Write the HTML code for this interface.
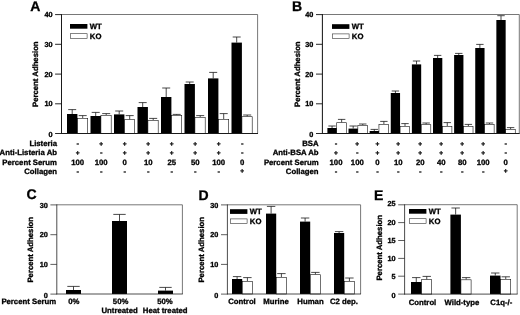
<!DOCTYPE html>
<html><head><meta charset="utf-8"><title>Figure</title>
<style>
html,body{margin:0;padding:0;background:#fff;}
body{width:520px;height:315px;overflow:hidden;}
svg{display:block;}
svg text{font-family:"Liberation Sans", Arial, Helvetica, sans-serif;font-weight:bold;fill:#000;text-rendering:geometricPrecision;stroke:#000;stroke-width:0.3px;}
svg{filter:blur(0.38px);}
</style></head><body>
<svg width="520" height="315" viewBox="0 0 520 315">
<rect x="0" y="0" width="520" height="315" fill="#fff"/>
<text x="30.30" y="11.20" text-anchor="start" font-size="14">A</text>
<line x1="61.50" y1="14.50" x2="257.60" y2="14.50" stroke="#555" stroke-width="0.8"/>
<line x1="257.60" y1="14.50" x2="257.60" y2="133.40" stroke="#555" stroke-width="0.8"/>
<line x1="82.70" y1="118.00" x2="82.70" y2="115.60" stroke="#1a1a1a" stroke-width="0.8"/>
<line x1="78.70" y1="115.60" x2="86.70" y2="115.60" stroke="#1a1a1a" stroke-width="0.8"/>
<rect x="77.40" y="118.30" width="10.30" height="15.10" fill="#fff" stroke="#111" stroke-width="0.6"/>
<line x1="72.20" y1="114.00" x2="72.20" y2="109.60" stroke="#1a1a1a" stroke-width="0.8"/>
<line x1="68.20" y1="109.60" x2="76.20" y2="109.60" stroke="#1a1a1a" stroke-width="0.8"/>
<rect x="67.00" y="114.00" width="10.40" height="19.40" fill="#000"/>
<line x1="106.20" y1="115.00" x2="106.20" y2="113.60" stroke="#1a1a1a" stroke-width="0.8"/>
<line x1="102.20" y1="113.60" x2="110.20" y2="113.60" stroke="#1a1a1a" stroke-width="0.8"/>
<rect x="100.90" y="115.30" width="10.30" height="18.10" fill="#fff" stroke="#111" stroke-width="0.6"/>
<line x1="95.70" y1="116.00" x2="95.70" y2="112.40" stroke="#1a1a1a" stroke-width="0.8"/>
<line x1="91.70" y1="112.40" x2="99.70" y2="112.40" stroke="#1a1a1a" stroke-width="0.8"/>
<rect x="90.50" y="116.00" width="10.40" height="17.40" fill="#000"/>
<line x1="129.70" y1="119.40" x2="129.70" y2="115.60" stroke="#1a1a1a" stroke-width="0.8"/>
<line x1="125.70" y1="115.60" x2="133.70" y2="115.60" stroke="#1a1a1a" stroke-width="0.8"/>
<rect x="124.40" y="119.70" width="10.30" height="13.70" fill="#fff" stroke="#111" stroke-width="0.6"/>
<line x1="119.20" y1="114.40" x2="119.20" y2="111.00" stroke="#1a1a1a" stroke-width="0.8"/>
<line x1="115.20" y1="111.00" x2="123.20" y2="111.00" stroke="#1a1a1a" stroke-width="0.8"/>
<rect x="114.00" y="114.40" width="10.40" height="19.00" fill="#000"/>
<line x1="153.20" y1="120.00" x2="153.20" y2="118.40" stroke="#1a1a1a" stroke-width="0.8"/>
<line x1="149.20" y1="118.40" x2="157.20" y2="118.40" stroke="#1a1a1a" stroke-width="0.8"/>
<rect x="147.90" y="120.30" width="10.30" height="13.10" fill="#fff" stroke="#111" stroke-width="0.6"/>
<line x1="142.70" y1="107.00" x2="142.70" y2="102.60" stroke="#1a1a1a" stroke-width="0.8"/>
<line x1="138.70" y1="102.60" x2="146.70" y2="102.60" stroke="#1a1a1a" stroke-width="0.8"/>
<rect x="137.50" y="107.00" width="10.40" height="26.40" fill="#000"/>
<line x1="176.70" y1="115.00" x2="176.70" y2="114.40" stroke="#1a1a1a" stroke-width="0.8"/>
<line x1="172.70" y1="114.40" x2="180.70" y2="114.40" stroke="#1a1a1a" stroke-width="0.8"/>
<rect x="171.40" y="115.30" width="10.30" height="18.10" fill="#fff" stroke="#111" stroke-width="0.6"/>
<line x1="166.20" y1="97.00" x2="166.20" y2="88.00" stroke="#1a1a1a" stroke-width="0.8"/>
<line x1="162.20" y1="88.00" x2="170.20" y2="88.00" stroke="#1a1a1a" stroke-width="0.8"/>
<rect x="161.00" y="97.00" width="10.40" height="36.40" fill="#000"/>
<line x1="200.20" y1="117.00" x2="200.20" y2="115.60" stroke="#1a1a1a" stroke-width="0.8"/>
<line x1="196.20" y1="115.60" x2="204.20" y2="115.60" stroke="#1a1a1a" stroke-width="0.8"/>
<rect x="194.90" y="117.30" width="10.30" height="16.10" fill="#fff" stroke="#111" stroke-width="0.6"/>
<line x1="189.70" y1="84.00" x2="189.70" y2="82.00" stroke="#1a1a1a" stroke-width="0.8"/>
<line x1="185.70" y1="82.00" x2="193.70" y2="82.00" stroke="#1a1a1a" stroke-width="0.8"/>
<rect x="184.50" y="84.00" width="10.40" height="49.40" fill="#000"/>
<line x1="223.70" y1="119.00" x2="223.70" y2="113.60" stroke="#1a1a1a" stroke-width="0.8"/>
<line x1="219.70" y1="113.60" x2="227.70" y2="113.60" stroke="#1a1a1a" stroke-width="0.8"/>
<rect x="218.40" y="119.30" width="10.30" height="14.10" fill="#fff" stroke="#111" stroke-width="0.6"/>
<line x1="213.20" y1="78.40" x2="213.20" y2="72.40" stroke="#1a1a1a" stroke-width="0.8"/>
<line x1="209.20" y1="72.40" x2="217.20" y2="72.40" stroke="#1a1a1a" stroke-width="0.8"/>
<rect x="208.00" y="78.40" width="10.40" height="55.00" fill="#000"/>
<line x1="247.20" y1="116.40" x2="247.20" y2="115.00" stroke="#1a1a1a" stroke-width="0.8"/>
<line x1="243.20" y1="115.00" x2="251.20" y2="115.00" stroke="#1a1a1a" stroke-width="0.8"/>
<rect x="241.90" y="116.70" width="10.30" height="16.70" fill="#fff" stroke="#111" stroke-width="0.6"/>
<line x1="236.70" y1="42.60" x2="236.70" y2="37.00" stroke="#1a1a1a" stroke-width="0.8"/>
<line x1="232.70" y1="37.00" x2="240.70" y2="37.00" stroke="#1a1a1a" stroke-width="0.8"/>
<rect x="231.50" y="42.60" width="10.40" height="90.80" fill="#000"/>
<line x1="61.50" y1="14.10" x2="61.50" y2="133.93" stroke="#1a1a1a" stroke-width="1.05"/>
<line x1="60.98" y1="133.40" x2="258.00" y2="133.40" stroke="#1a1a1a" stroke-width="1.05"/>
<line x1="55.10" y1="133.50" x2="61.50" y2="133.50" stroke="#1a1a1a" stroke-width="0.9450000000000001"/>
<text x="52.50" y="137.15" text-anchor="end" font-size="7.3">0</text>
<line x1="55.10" y1="103.80" x2="61.50" y2="103.80" stroke="#1a1a1a" stroke-width="0.9450000000000001"/>
<text x="52.50" y="106.45" text-anchor="end" font-size="7.3">10</text>
<line x1="55.10" y1="74.10" x2="61.50" y2="74.10" stroke="#1a1a1a" stroke-width="0.9450000000000001"/>
<text x="52.50" y="76.75" text-anchor="end" font-size="7.3">20</text>
<line x1="55.10" y1="44.30" x2="61.50" y2="44.30" stroke="#1a1a1a" stroke-width="0.9450000000000001"/>
<text x="52.50" y="46.95" text-anchor="end" font-size="7.3">30</text>
<line x1="55.10" y1="14.60" x2="61.50" y2="14.60" stroke="#1a1a1a" stroke-width="0.9450000000000001"/>
<text x="52.50" y="17.25" text-anchor="end" font-size="7.3">40</text>
<rect x="70.00" y="24.00" width="17.40" height="4.70" fill="#000"/>
<rect x="70.30" y="33.70" width="16.80" height="4.60" fill="#fff" stroke="#333" stroke-width="0.6"/>
<text x="89.80" y="29.20" text-anchor="start" font-size="7.75">WT</text>
<text x="89.80" y="39.20" text-anchor="start" font-size="7.75">KO</text>
<text transform="translate(38.00,74.20) rotate(-90)" text-anchor="middle" font-size="7.75">Percent Adhesion</text>
<text x="57.00" y="146.00" text-anchor="end" font-size="7.75">Listeria</text>
<text x="77.70" y="146.00" text-anchor="middle" font-size="7.75">-</text>
<text x="101.20" y="145.55" text-anchor="middle" font-size="6.6">+</text>
<text x="124.70" y="145.55" text-anchor="middle" font-size="6.6">+</text>
<text x="148.20" y="145.55" text-anchor="middle" font-size="6.6">+</text>
<text x="171.70" y="145.55" text-anchor="middle" font-size="6.6">+</text>
<text x="195.20" y="145.55" text-anchor="middle" font-size="6.6">+</text>
<text x="218.70" y="145.55" text-anchor="middle" font-size="6.6">+</text>
<text x="242.20" y="146.00" text-anchor="middle" font-size="7.75">-</text>
<text x="57.00" y="155.40" text-anchor="end" font-size="7.75">Anti-Listeria Ab</text>
<text x="77.70" y="154.95" text-anchor="middle" font-size="6.6">+</text>
<text x="101.20" y="155.40" text-anchor="middle" font-size="7.75">-</text>
<text x="124.70" y="154.95" text-anchor="middle" font-size="6.6">+</text>
<text x="148.20" y="154.95" text-anchor="middle" font-size="6.6">+</text>
<text x="171.70" y="154.95" text-anchor="middle" font-size="6.6">+</text>
<text x="195.20" y="154.95" text-anchor="middle" font-size="6.6">+</text>
<text x="218.70" y="154.95" text-anchor="middle" font-size="6.6">+</text>
<text x="242.20" y="155.40" text-anchor="middle" font-size="7.75">-</text>
<text x="57.00" y="164.60" text-anchor="end" font-size="7.75">Percent Serum</text>
<text x="77.70" y="164.60" text-anchor="middle" font-size="7.75">100</text>
<text x="101.20" y="164.60" text-anchor="middle" font-size="7.75">100</text>
<text x="124.70" y="164.60" text-anchor="middle" font-size="7.75">0</text>
<text x="148.20" y="164.60" text-anchor="middle" font-size="7.75">10</text>
<text x="171.70" y="164.60" text-anchor="middle" font-size="7.75">25</text>
<text x="195.20" y="164.60" text-anchor="middle" font-size="7.75">50</text>
<text x="218.70" y="164.60" text-anchor="middle" font-size="7.75">100</text>
<text x="242.20" y="164.60" text-anchor="middle" font-size="7.75">0</text>
<text x="57.00" y="173.80" text-anchor="end" font-size="7.75">Collagen</text>
<text x="77.70" y="173.80" text-anchor="middle" font-size="7.75">-</text>
<text x="101.20" y="173.80" text-anchor="middle" font-size="7.75">-</text>
<text x="124.70" y="173.80" text-anchor="middle" font-size="7.75">-</text>
<text x="148.20" y="173.80" text-anchor="middle" font-size="7.75">-</text>
<text x="171.70" y="173.80" text-anchor="middle" font-size="7.75">-</text>
<text x="195.20" y="173.80" text-anchor="middle" font-size="7.75">-</text>
<text x="218.70" y="173.80" text-anchor="middle" font-size="7.75">-</text>
<text x="242.20" y="173.35" text-anchor="middle" font-size="6.6">+</text>
<text x="292.00" y="10.80" text-anchor="start" font-size="14">B</text>
<line x1="322.40" y1="14.50" x2="519.30" y2="14.50" stroke="#555" stroke-width="0.8"/>
<line x1="519.30" y1="14.50" x2="519.30" y2="133.40" stroke="#555" stroke-width="0.8"/>
<line x1="341.65" y1="122.40" x2="341.65" y2="119.40" stroke="#1a1a1a" stroke-width="0.8"/>
<line x1="337.95" y1="119.40" x2="345.35" y2="119.40" stroke="#1a1a1a" stroke-width="0.8"/>
<rect x="336.70" y="122.70" width="9.60" height="10.70" fill="#fff" stroke="#111" stroke-width="0.6"/>
<line x1="332.05" y1="128.00" x2="332.05" y2="126.00" stroke="#1a1a1a" stroke-width="0.8"/>
<line x1="328.35" y1="126.00" x2="335.75" y2="126.00" stroke="#1a1a1a" stroke-width="0.8"/>
<rect x="327.40" y="128.00" width="9.30" height="5.40" fill="#000"/>
<line x1="362.77" y1="125.00" x2="362.77" y2="124.00" stroke="#1a1a1a" stroke-width="0.8"/>
<line x1="359.07" y1="124.00" x2="366.47" y2="124.00" stroke="#1a1a1a" stroke-width="0.8"/>
<rect x="357.82" y="125.30" width="9.60" height="8.10" fill="#fff" stroke="#111" stroke-width="0.6"/>
<line x1="353.17" y1="128.60" x2="353.17" y2="126.00" stroke="#1a1a1a" stroke-width="0.8"/>
<line x1="349.47" y1="126.00" x2="356.87" y2="126.00" stroke="#1a1a1a" stroke-width="0.8"/>
<rect x="348.52" y="128.60" width="9.30" height="4.80" fill="#000"/>
<line x1="383.89" y1="124.00" x2="383.89" y2="121.40" stroke="#1a1a1a" stroke-width="0.8"/>
<line x1="380.19" y1="121.40" x2="387.59" y2="121.40" stroke="#1a1a1a" stroke-width="0.8"/>
<rect x="378.94" y="124.30" width="9.60" height="9.10" fill="#fff" stroke="#111" stroke-width="0.6"/>
<line x1="374.29" y1="131.00" x2="374.29" y2="129.40" stroke="#1a1a1a" stroke-width="0.8"/>
<line x1="370.59" y1="129.40" x2="377.99" y2="129.40" stroke="#1a1a1a" stroke-width="0.8"/>
<rect x="369.64" y="131.00" width="9.30" height="2.40" fill="#000"/>
<line x1="405.01" y1="126.00" x2="405.01" y2="123.60" stroke="#1a1a1a" stroke-width="0.8"/>
<line x1="401.31" y1="123.60" x2="408.71" y2="123.60" stroke="#1a1a1a" stroke-width="0.8"/>
<rect x="400.06" y="126.30" width="9.60" height="7.10" fill="#fff" stroke="#111" stroke-width="0.6"/>
<line x1="395.41" y1="93.00" x2="395.41" y2="91.00" stroke="#1a1a1a" stroke-width="0.8"/>
<line x1="391.71" y1="91.00" x2="399.11" y2="91.00" stroke="#1a1a1a" stroke-width="0.8"/>
<rect x="390.76" y="93.00" width="9.30" height="40.40" fill="#000"/>
<line x1="426.13" y1="124.40" x2="426.13" y2="123.00" stroke="#1a1a1a" stroke-width="0.8"/>
<line x1="422.43" y1="123.00" x2="429.83" y2="123.00" stroke="#1a1a1a" stroke-width="0.8"/>
<rect x="421.18" y="124.70" width="9.60" height="8.70" fill="#fff" stroke="#111" stroke-width="0.6"/>
<line x1="416.53" y1="64.40" x2="416.53" y2="61.00" stroke="#1a1a1a" stroke-width="0.8"/>
<line x1="412.83" y1="61.00" x2="420.23" y2="61.00" stroke="#1a1a1a" stroke-width="0.8"/>
<rect x="411.88" y="64.40" width="9.30" height="69.00" fill="#000"/>
<line x1="447.25" y1="126.00" x2="447.25" y2="122.60" stroke="#1a1a1a" stroke-width="0.8"/>
<line x1="443.55" y1="122.60" x2="450.95" y2="122.60" stroke="#1a1a1a" stroke-width="0.8"/>
<rect x="442.30" y="126.30" width="9.60" height="7.10" fill="#fff" stroke="#111" stroke-width="0.6"/>
<line x1="437.65" y1="58.00" x2="437.65" y2="55.40" stroke="#1a1a1a" stroke-width="0.8"/>
<line x1="433.95" y1="55.40" x2="441.35" y2="55.40" stroke="#1a1a1a" stroke-width="0.8"/>
<rect x="433.00" y="58.00" width="9.30" height="75.40" fill="#000"/>
<line x1="468.37" y1="126.00" x2="468.37" y2="124.40" stroke="#1a1a1a" stroke-width="0.8"/>
<line x1="464.67" y1="124.40" x2="472.07" y2="124.40" stroke="#1a1a1a" stroke-width="0.8"/>
<rect x="463.42" y="126.30" width="9.60" height="7.10" fill="#fff" stroke="#111" stroke-width="0.6"/>
<line x1="458.77" y1="55.00" x2="458.77" y2="53.40" stroke="#1a1a1a" stroke-width="0.8"/>
<line x1="455.07" y1="53.40" x2="462.47" y2="53.40" stroke="#1a1a1a" stroke-width="0.8"/>
<rect x="454.12" y="55.00" width="9.30" height="78.40" fill="#000"/>
<line x1="489.49" y1="124.00" x2="489.49" y2="123.00" stroke="#1a1a1a" stroke-width="0.8"/>
<line x1="485.79" y1="123.00" x2="493.19" y2="123.00" stroke="#1a1a1a" stroke-width="0.8"/>
<rect x="484.54" y="124.30" width="9.60" height="9.10" fill="#fff" stroke="#111" stroke-width="0.6"/>
<line x1="479.89" y1="48.00" x2="479.89" y2="44.40" stroke="#1a1a1a" stroke-width="0.8"/>
<line x1="476.19" y1="44.40" x2="483.59" y2="44.40" stroke="#1a1a1a" stroke-width="0.8"/>
<rect x="475.24" y="48.00" width="9.30" height="85.40" fill="#000"/>
<line x1="510.61" y1="129.00" x2="510.61" y2="127.60" stroke="#1a1a1a" stroke-width="0.8"/>
<line x1="506.91" y1="127.60" x2="514.31" y2="127.60" stroke="#1a1a1a" stroke-width="0.8"/>
<rect x="505.66" y="129.30" width="9.60" height="4.10" fill="#fff" stroke="#111" stroke-width="0.6"/>
<line x1="501.01" y1="20.00" x2="501.01" y2="15.70" stroke="#1a1a1a" stroke-width="0.8"/>
<line x1="497.31" y1="15.70" x2="504.71" y2="15.70" stroke="#1a1a1a" stroke-width="0.8"/>
<rect x="496.36" y="20.00" width="9.30" height="113.40" fill="#000"/>
<line x1="322.40" y1="14.10" x2="322.40" y2="133.93" stroke="#1a1a1a" stroke-width="1.05"/>
<line x1="321.88" y1="133.40" x2="519.70" y2="133.40" stroke="#1a1a1a" stroke-width="1.05"/>
<line x1="316.00" y1="133.50" x2="322.40" y2="133.50" stroke="#1a1a1a" stroke-width="0.9450000000000001"/>
<text x="313.40" y="137.15" text-anchor="end" font-size="7.3">0</text>
<line x1="316.00" y1="103.80" x2="322.40" y2="103.80" stroke="#1a1a1a" stroke-width="0.9450000000000001"/>
<text x="313.40" y="106.45" text-anchor="end" font-size="7.3">10</text>
<line x1="316.00" y1="74.10" x2="322.40" y2="74.10" stroke="#1a1a1a" stroke-width="0.9450000000000001"/>
<text x="313.40" y="76.75" text-anchor="end" font-size="7.3">20</text>
<line x1="316.00" y1="44.30" x2="322.40" y2="44.30" stroke="#1a1a1a" stroke-width="0.9450000000000001"/>
<text x="313.40" y="46.95" text-anchor="end" font-size="7.3">30</text>
<line x1="316.00" y1="14.60" x2="322.40" y2="14.60" stroke="#1a1a1a" stroke-width="0.9450000000000001"/>
<text x="313.40" y="17.25" text-anchor="end" font-size="7.3">40</text>
<rect x="332.00" y="24.20" width="17.40" height="4.70" fill="#000"/>
<rect x="332.30" y="33.90" width="16.80" height="4.60" fill="#fff" stroke="#333" stroke-width="0.6"/>
<text x="351.80" y="29.40" text-anchor="start" font-size="7.75">WT</text>
<text x="351.80" y="39.40" text-anchor="start" font-size="7.75">KO</text>
<text transform="translate(300.00,74.20) rotate(-90)" text-anchor="middle" font-size="7.75">Percent Adhesion</text>
<text x="318.60" y="146.00" text-anchor="end" font-size="7.75">BSA</text>
<text x="336.00" y="146.00" text-anchor="middle" font-size="7.75">-</text>
<text x="357.30" y="145.55" text-anchor="middle" font-size="6.6">+</text>
<text x="377.50" y="145.55" text-anchor="middle" font-size="6.6">+</text>
<text x="398.30" y="145.55" text-anchor="middle" font-size="6.6">+</text>
<text x="420.30" y="145.55" text-anchor="middle" font-size="6.6">+</text>
<text x="441.20" y="145.55" text-anchor="middle" font-size="6.6">+</text>
<text x="462.20" y="145.55" text-anchor="middle" font-size="6.6">+</text>
<text x="483.20" y="145.55" text-anchor="middle" font-size="6.6">+</text>
<text x="505.70" y="146.00" text-anchor="middle" font-size="7.75">-</text>
<text x="318.60" y="155.40" text-anchor="end" font-size="7.75">Anti-BSA Ab</text>
<text x="336.00" y="154.95" text-anchor="middle" font-size="6.6">+</text>
<text x="357.30" y="155.40" text-anchor="middle" font-size="7.75">-</text>
<text x="377.50" y="154.95" text-anchor="middle" font-size="6.6">+</text>
<text x="398.30" y="154.95" text-anchor="middle" font-size="6.6">+</text>
<text x="420.30" y="154.95" text-anchor="middle" font-size="6.6">+</text>
<text x="441.20" y="154.95" text-anchor="middle" font-size="6.6">+</text>
<text x="462.20" y="154.95" text-anchor="middle" font-size="6.6">+</text>
<text x="483.20" y="154.95" text-anchor="middle" font-size="6.6">+</text>
<text x="505.70" y="155.40" text-anchor="middle" font-size="7.75">-</text>
<text x="318.60" y="164.60" text-anchor="end" font-size="7.75">Percent Serum</text>
<text x="336.00" y="164.60" text-anchor="middle" font-size="7.75">100</text>
<text x="357.30" y="164.60" text-anchor="middle" font-size="7.75">100</text>
<text x="377.50" y="164.60" text-anchor="middle" font-size="7.75">0</text>
<text x="398.30" y="164.60" text-anchor="middle" font-size="7.75">10</text>
<text x="420.30" y="164.60" text-anchor="middle" font-size="7.75">20</text>
<text x="441.20" y="164.60" text-anchor="middle" font-size="7.75">40</text>
<text x="462.20" y="164.60" text-anchor="middle" font-size="7.75">80</text>
<text x="483.20" y="164.60" text-anchor="middle" font-size="7.75">100</text>
<text x="505.70" y="164.60" text-anchor="middle" font-size="7.75">0</text>
<text x="318.60" y="173.80" text-anchor="end" font-size="7.75">Collagen</text>
<text x="336.00" y="173.80" text-anchor="middle" font-size="7.75">-</text>
<text x="357.30" y="173.80" text-anchor="middle" font-size="7.75">-</text>
<text x="377.50" y="173.80" text-anchor="middle" font-size="7.75">-</text>
<text x="398.30" y="173.80" text-anchor="middle" font-size="7.75">-</text>
<text x="420.30" y="173.80" text-anchor="middle" font-size="7.75">-</text>
<text x="441.20" y="173.80" text-anchor="middle" font-size="7.75">-</text>
<text x="462.20" y="173.80" text-anchor="middle" font-size="7.75">-</text>
<text x="483.20" y="173.80" text-anchor="middle" font-size="7.75">-</text>
<text x="505.70" y="173.35" text-anchor="middle" font-size="6.6">+</text>
<text x="26.50" y="199.30" text-anchor="start" font-size="14">C</text>
<line x1="56.80" y1="204.80" x2="182.40" y2="204.80" stroke="#555" stroke-width="0.8"/>
<line x1="182.40" y1="204.80" x2="182.40" y2="294.00" stroke="#555" stroke-width="0.8"/>
<line x1="73.50" y1="290.00" x2="73.50" y2="286.40" stroke="#1a1a1a" stroke-width="0.8"/>
<line x1="67.30" y1="286.40" x2="79.70" y2="286.40" stroke="#1a1a1a" stroke-width="0.8"/>
<rect x="66.00" y="290.00" width="15.00" height="4.00" fill="#000"/>
<line x1="119.50" y1="221.00" x2="119.50" y2="214.40" stroke="#1a1a1a" stroke-width="0.8"/>
<line x1="113.30" y1="214.40" x2="125.70" y2="214.40" stroke="#1a1a1a" stroke-width="0.8"/>
<rect x="112.00" y="221.00" width="15.00" height="73.00" fill="#000"/>
<line x1="165.50" y1="290.60" x2="165.50" y2="287.40" stroke="#1a1a1a" stroke-width="0.8"/>
<line x1="159.30" y1="287.40" x2="171.70" y2="287.40" stroke="#1a1a1a" stroke-width="0.8"/>
<rect x="158.00" y="290.60" width="15.00" height="3.40" fill="#000"/>
<line x1="56.80" y1="204.40" x2="56.80" y2="294.39" stroke="#1a1a1a" stroke-width="0.78"/>
<line x1="56.41" y1="294.00" x2="182.80" y2="294.00" stroke="#1a1a1a" stroke-width="0.78"/>
<line x1="50.40" y1="294.10" x2="56.80" y2="294.10" stroke="#1a1a1a" stroke-width="0.7020000000000001"/>
<text x="47.80" y="297.75" text-anchor="end" font-size="7.3">0</text>
<line x1="50.40" y1="264.40" x2="56.80" y2="264.40" stroke="#1a1a1a" stroke-width="0.7020000000000001"/>
<text x="47.80" y="267.05" text-anchor="end" font-size="7.3">10</text>
<line x1="50.40" y1="234.70" x2="56.80" y2="234.70" stroke="#1a1a1a" stroke-width="0.7020000000000001"/>
<text x="47.80" y="237.35" text-anchor="end" font-size="7.3">20</text>
<line x1="50.40" y1="204.90" x2="56.80" y2="204.90" stroke="#1a1a1a" stroke-width="0.7020000000000001"/>
<text x="47.80" y="207.55" text-anchor="end" font-size="7.3">30</text>
<text transform="translate(33.30,249.80) rotate(-90)" text-anchor="middle" font-size="7.75">Percent Adhesion</text>
<text x="56.10" y="303.70" text-anchor="end" font-size="7.75">Percent Serum</text>
<text x="73.80" y="303.70" text-anchor="middle" font-size="7.75">0%</text>
<text x="120.60" y="303.70" text-anchor="middle" font-size="7.75">50%</text>
<text x="165.00" y="303.70" text-anchor="middle" font-size="7.75">50%</text>
<text x="119.60" y="313.30" text-anchor="middle" font-size="7.75">Untreated</text>
<text x="165.20" y="313.30" text-anchor="middle" font-size="7.75">Heat treated</text>
<text x="198.60" y="199.60" text-anchor="start" font-size="14">D</text>
<line x1="227.40" y1="204.80" x2="360.60" y2="204.80" stroke="#555" stroke-width="0.8"/>
<line x1="360.60" y1="204.80" x2="360.60" y2="294.00" stroke="#555" stroke-width="0.8"/>
<line x1="247.40" y1="281.00" x2="247.40" y2="277.60" stroke="#1a1a1a" stroke-width="0.8"/>
<line x1="243.20" y1="277.60" x2="251.60" y2="277.60" stroke="#1a1a1a" stroke-width="0.8"/>
<rect x="242.20" y="281.30" width="10.10" height="12.70" fill="#fff" stroke="#111" stroke-width="0.6"/>
<line x1="237.10" y1="279.00" x2="237.10" y2="276.60" stroke="#1a1a1a" stroke-width="0.8"/>
<line x1="232.90" y1="276.60" x2="241.30" y2="276.60" stroke="#1a1a1a" stroke-width="0.8"/>
<rect x="232.00" y="279.00" width="10.20" height="15.00" fill="#000"/>
<line x1="281.40" y1="277.00" x2="281.40" y2="273.60" stroke="#1a1a1a" stroke-width="0.8"/>
<line x1="277.20" y1="273.60" x2="285.60" y2="273.60" stroke="#1a1a1a" stroke-width="0.8"/>
<rect x="276.20" y="277.30" width="10.10" height="16.70" fill="#fff" stroke="#111" stroke-width="0.6"/>
<line x1="271.10" y1="213.60" x2="271.10" y2="206.40" stroke="#1a1a1a" stroke-width="0.8"/>
<line x1="266.90" y1="206.40" x2="275.30" y2="206.40" stroke="#1a1a1a" stroke-width="0.8"/>
<rect x="266.00" y="213.60" width="10.20" height="80.40" fill="#000"/>
<line x1="315.40" y1="274.40" x2="315.40" y2="272.40" stroke="#1a1a1a" stroke-width="0.8"/>
<line x1="311.20" y1="272.40" x2="319.60" y2="272.40" stroke="#1a1a1a" stroke-width="0.8"/>
<rect x="310.20" y="274.70" width="10.10" height="19.30" fill="#fff" stroke="#111" stroke-width="0.6"/>
<line x1="305.10" y1="221.60" x2="305.10" y2="218.00" stroke="#1a1a1a" stroke-width="0.8"/>
<line x1="300.90" y1="218.00" x2="309.30" y2="218.00" stroke="#1a1a1a" stroke-width="0.8"/>
<rect x="300.00" y="221.60" width="10.20" height="72.40" fill="#000"/>
<line x1="349.40" y1="281.00" x2="349.40" y2="278.00" stroke="#1a1a1a" stroke-width="0.8"/>
<line x1="345.20" y1="278.00" x2="353.60" y2="278.00" stroke="#1a1a1a" stroke-width="0.8"/>
<rect x="344.20" y="281.30" width="10.10" height="12.70" fill="#fff" stroke="#111" stroke-width="0.6"/>
<line x1="339.10" y1="233.00" x2="339.10" y2="231.60" stroke="#1a1a1a" stroke-width="0.8"/>
<line x1="334.90" y1="231.60" x2="343.30" y2="231.60" stroke="#1a1a1a" stroke-width="0.8"/>
<rect x="334.00" y="233.00" width="10.20" height="61.00" fill="#000"/>
<line x1="227.40" y1="204.40" x2="227.40" y2="294.39" stroke="#1a1a1a" stroke-width="0.78"/>
<line x1="227.01" y1="294.00" x2="361.00" y2="294.00" stroke="#1a1a1a" stroke-width="0.78"/>
<line x1="221.00" y1="294.10" x2="227.40" y2="294.10" stroke="#1a1a1a" stroke-width="0.7020000000000001"/>
<text x="218.40" y="297.75" text-anchor="end" font-size="7.3">0</text>
<line x1="221.00" y1="264.40" x2="227.40" y2="264.40" stroke="#1a1a1a" stroke-width="0.7020000000000001"/>
<text x="218.40" y="267.05" text-anchor="end" font-size="7.3">10</text>
<line x1="221.00" y1="234.70" x2="227.40" y2="234.70" stroke="#1a1a1a" stroke-width="0.7020000000000001"/>
<text x="218.40" y="237.35" text-anchor="end" font-size="7.3">20</text>
<line x1="221.00" y1="204.90" x2="227.40" y2="204.90" stroke="#1a1a1a" stroke-width="0.7020000000000001"/>
<text x="218.40" y="207.55" text-anchor="end" font-size="7.3">30</text>
<rect x="230.00" y="209.20" width="17.40" height="4.70" fill="#000"/>
<rect x="230.30" y="218.90" width="16.80" height="4.60" fill="#fff" stroke="#333" stroke-width="0.6"/>
<text x="249.80" y="214.40" text-anchor="start" font-size="7.75">WT</text>
<text x="249.80" y="224.40" text-anchor="start" font-size="7.75">KO</text>
<text transform="translate(203.60,249.80) rotate(-90)" text-anchor="middle" font-size="7.75">Percent Adhesion</text>
<text x="242.00" y="304.40" text-anchor="middle" font-size="7.75">Control</text>
<text x="276.00" y="304.40" text-anchor="middle" font-size="7.75">Murine</text>
<text x="310.50" y="304.40" text-anchor="middle" font-size="7.75">Human</text>
<text x="344.00" y="304.40" text-anchor="middle" font-size="7.75">C2 dep.</text>
<text x="374.00" y="199.60" text-anchor="start" font-size="14">E</text>
<line x1="404.60" y1="204.70" x2="517.20" y2="204.70" stroke="#555" stroke-width="0.8"/>
<line x1="517.20" y1="204.70" x2="517.20" y2="294.10" stroke="#555" stroke-width="0.8"/>
<line x1="426.75" y1="279.40" x2="426.75" y2="276.40" stroke="#1a1a1a" stroke-width="0.8"/>
<line x1="422.55" y1="276.40" x2="430.95" y2="276.40" stroke="#1a1a1a" stroke-width="0.8"/>
<rect x="421.50" y="279.70" width="10.20" height="14.40" fill="#fff" stroke="#111" stroke-width="0.6"/>
<line x1="416.25" y1="282.00" x2="416.25" y2="277.60" stroke="#1a1a1a" stroke-width="0.8"/>
<line x1="412.05" y1="277.60" x2="420.45" y2="277.60" stroke="#1a1a1a" stroke-width="0.8"/>
<rect x="411.00" y="282.00" width="10.50" height="12.10" fill="#000"/>
<line x1="466.15" y1="279.50" x2="466.15" y2="277.60" stroke="#1a1a1a" stroke-width="0.8"/>
<line x1="461.95" y1="277.60" x2="470.35" y2="277.60" stroke="#1a1a1a" stroke-width="0.8"/>
<rect x="460.90" y="279.80" width="10.20" height="14.30" fill="#fff" stroke="#111" stroke-width="0.6"/>
<line x1="455.65" y1="214.60" x2="455.65" y2="208.00" stroke="#1a1a1a" stroke-width="0.8"/>
<line x1="451.45" y1="208.00" x2="459.85" y2="208.00" stroke="#1a1a1a" stroke-width="0.8"/>
<rect x="450.40" y="214.60" width="10.50" height="79.50" fill="#000"/>
<line x1="505.75" y1="279.00" x2="505.75" y2="276.80" stroke="#1a1a1a" stroke-width="0.8"/>
<line x1="501.55" y1="276.80" x2="509.95" y2="276.80" stroke="#1a1a1a" stroke-width="0.8"/>
<rect x="500.50" y="279.30" width="10.20" height="14.80" fill="#fff" stroke="#111" stroke-width="0.6"/>
<line x1="495.25" y1="275.60" x2="495.25" y2="273.00" stroke="#1a1a1a" stroke-width="0.8"/>
<line x1="491.05" y1="273.00" x2="499.45" y2="273.00" stroke="#1a1a1a" stroke-width="0.8"/>
<rect x="490.00" y="275.60" width="10.50" height="18.50" fill="#000"/>
<line x1="404.60" y1="204.30" x2="404.60" y2="294.49" stroke="#1a1a1a" stroke-width="0.78"/>
<line x1="404.21" y1="294.10" x2="517.60" y2="294.10" stroke="#1a1a1a" stroke-width="0.78"/>
<line x1="398.20" y1="294.10" x2="404.60" y2="294.10" stroke="#1a1a1a" stroke-width="0.7020000000000001"/>
<text x="395.60" y="297.95" text-anchor="end" font-size="7.3">0</text>
<line x1="398.20" y1="276.20" x2="404.60" y2="276.20" stroke="#1a1a1a" stroke-width="0.7020000000000001"/>
<text x="395.60" y="279.05" text-anchor="end" font-size="7.3">5</text>
<line x1="398.20" y1="258.40" x2="404.60" y2="258.40" stroke="#1a1a1a" stroke-width="0.7020000000000001"/>
<text x="395.60" y="260.75" text-anchor="end" font-size="7.3">10</text>
<line x1="398.20" y1="240.50" x2="404.60" y2="240.50" stroke="#1a1a1a" stroke-width="0.7020000000000001"/>
<text x="395.60" y="242.85" text-anchor="end" font-size="7.3">15</text>
<line x1="398.20" y1="222.60" x2="404.60" y2="222.60" stroke="#1a1a1a" stroke-width="0.7020000000000001"/>
<text x="395.60" y="224.95" text-anchor="end" font-size="7.3">20</text>
<line x1="398.20" y1="204.80" x2="404.60" y2="204.80" stroke="#1a1a1a" stroke-width="0.7020000000000001"/>
<text x="395.60" y="206.45" text-anchor="end" font-size="7.3">25</text>
<rect x="409.00" y="209.00" width="17.40" height="4.70" fill="#000"/>
<rect x="409.30" y="218.70" width="16.80" height="4.60" fill="#fff" stroke="#333" stroke-width="0.6"/>
<text x="428.80" y="214.20" text-anchor="start" font-size="7.75">WT</text>
<text x="428.80" y="224.20" text-anchor="start" font-size="7.75">KO</text>
<text transform="translate(382.00,247.80) rotate(-90)" text-anchor="middle" font-size="7.75">Percent Adhesion</text>
<text x="422.50" y="304.60" text-anchor="middle" font-size="7.75">Control</text>
<text x="461.90" y="304.60" text-anchor="middle" font-size="7.75">Wild-type</text>
<text x="501.30" y="304.60" text-anchor="middle" font-size="7.75">C1q-/-</text>
</svg>
</body></html>
